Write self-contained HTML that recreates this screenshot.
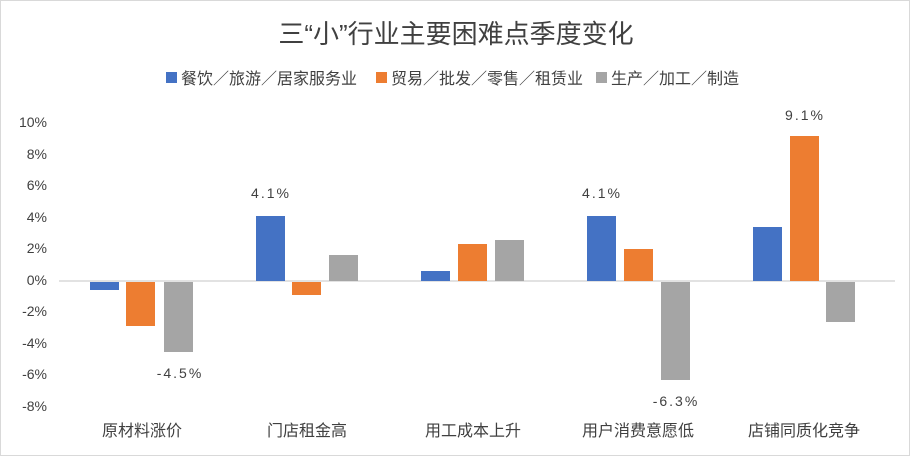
<!DOCTYPE html>
<html><head><meta charset="utf-8"><style>
body{margin:0;background:#fff}
svg{display:block}
text{font-family:"Liberation Sans","Noto Sans CJK SC",sans-serif;fill:#404040}
</style></head><body>
<svg width="910" height="456" viewBox="0 0 910 456">
<rect x="0.5" y="0.5" width="909" height="455" fill="#fff" stroke="#d9d9d9"/>
<text x="456" y="43" text-anchor="middle" font-size="26" fill="#333">三“小”行业主要困难点季度变化</text>
<rect x="166" y="72" width="11" height="11" fill="#4472c4"/>
<text x="181" y="84" font-size="16">餐饮／旅游／居家服务业</text>
<rect x="376" y="72" width="11" height="11" fill="#ed7d31"/>
<text x="391" y="84" font-size="16">贸易／批发／零售／租赁业</text>
<rect x="596" y="72" width="11" height="11" fill="#a5a5a5"/>
<text x="611" y="84" font-size="16">生产／加工／制造</text>
<g font-size="14" text-anchor="end">
<text x="47" y="127">10%</text><text x="47" y="159">8%</text><text x="47" y="190">6%</text>
<text x="47" y="222">4%</text><text x="47" y="253">2%</text><text x="47" y="285">0%</text>
<text x="47" y="316">-2%</text><text x="47" y="348">-4%</text><text x="47" y="379">-6%</text>
<text x="47" y="411">-8%</text>
</g>
<line x1="59" y1="281" x2="895" y2="281" stroke="#d9d9d9" stroke-width="1.5"/>
<g fill="#4472c4">
<rect x="90" y="282" width="29" height="8"/>
<rect x="256" y="216" width="29" height="65"/>
<rect x="421" y="271" width="29" height="10"/>
<rect x="587" y="216" width="29" height="65"/>
<rect x="753" y="227" width="29" height="54"/>
</g>
<g fill="#ed7d31">
<rect x="126" y="282" width="29" height="44"/>
<rect x="292" y="282" width="29" height="13"/>
<rect x="458" y="244" width="29" height="37"/>
<rect x="624" y="249" width="29" height="32"/>
<rect x="790" y="136" width="29" height="145"/>
</g>
<g fill="#a5a5a5">
<rect x="164" y="282" width="29" height="70"/>
<rect x="329" y="255" width="29" height="26"/>
<rect x="495" y="240" width="29" height="41"/>
<rect x="661" y="282" width="29" height="98"/>
<rect x="826" y="282" width="29" height="40"/>
</g>
<g font-size="14" text-anchor="middle" letter-spacing="2">
<text x="271" y="198">4.1%</text>
<text x="602" y="198">4.1%</text>
<text x="805" y="120">9.1%</text>
<text x="180" y="378">-4.5%</text>
<text x="676" y="406">-6.3%</text>
</g>
<g font-size="16" text-anchor="middle">
<text x="142" y="436">原材料涨价</text>
<text x="307" y="436">门店租金高</text>
<text x="473" y="436">用工成本上升</text>
<text x="638" y="436">用户消费意愿低</text>
<text x="804" y="436">店铺同质化竞争</text>
</g>
</svg>
</body></html>
